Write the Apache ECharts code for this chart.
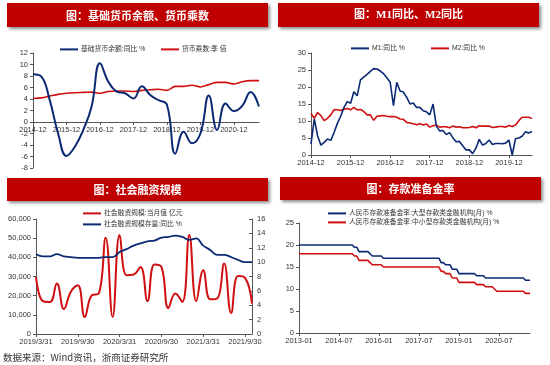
<!DOCTYPE html>
<html>
<head>
<meta charset="utf-8">
<script src="https://cdn.jsdelivr.net/npm/echarts@6/dist/echarts.min.js"></script>
<style>
html,body{margin:0;padding:0;background:#fff;}
#c{width:550px;height:365px;}
</style>
</head>
<body>
<div id="c"></div>
<script>
// ---------- Panel 1: 基础货币余额 / 货币乘数 (quarterly) ----------
var p1Cats = ['2014-12','2015-03','2015-06','2015-09','2015-12','2016-03','2016-06','2016-09','2016-12','2017-03','2017-06','2017-09','2017-12','2018-03','2018-06','2018-09','2018-12','2019-03','2019-06','2019-09','2019-12','2020-03','2020-06','2020-09','2020-12','2021-03','2021-06','2021-09'];
var p1Base = [8.3, 7.9, 3.8, -2.0, -5.9, -4.3, -1.4, 2.7, 10.2, 7.0, 5.3, 5.0, 4.1, 6.2, 4.7, 3.8, 3.0, -5.5, -1.7, -3.7, -2.0, 4.6, -1.4, 3.2, 1.9, 2.8, 5.2, 2.7];
var p1Mult = [4.1, 4.2, 4.5, 4.8, 5.0, 5.1, 5.15, 5.2, 5.0, 5.3, 5.4, 5.4, 5.3, 5.5, 5.6, 5.7, 5.5, 6.2, 6.2, 6.4, 6.1, 6.5, 6.9, 6.9, 6.6, 7.0, 7.2, 7.2];
var p1YMin = -8, p1YMax = 12;

// ---------- Panel 2: M1 / M2 同比 (monthly 2014-12 .. 2020-07) ----------
var p2M1 = [3.2,10.6,5.6,2.9,3.7,4.7,4.3,6.6,9.3,11.4,14.0,15.7,15.2,18.6,17.4,22.1,22.9,23.7,24.6,25.4,25.3,24.7,23.9,22.7,21.4,14.5,21.4,18.8,18.5,17.0,15.0,15.3,14.0,14.0,13.0,12.7,11.8,15.0,8.5,7.1,7.2,6.0,6.6,5.1,3.9,4.0,2.7,1.5,1.5,0.4,2.0,4.6,2.9,3.4,4.4,3.1,3.4,3.4,3.3,3.5,4.4,0.0,4.8,5.0,5.5,6.8,6.5,6.9];
var p2M2 = [12.2,10.8,12.5,11.6,10.1,10.8,11.8,13.3,13.3,13.1,13.5,13.7,13.3,14.0,13.3,13.4,12.8,11.8,11.8,10.2,11.4,11.5,11.6,11.4,11.3,11.3,11.1,10.6,10.5,9.6,9.4,9.2,8.9,9.2,8.8,9.1,8.2,8.6,8.8,8.2,8.3,8.3,8.0,8.5,8.2,8.3,8.0,8.0,8.1,8.4,8.0,8.6,8.5,8.5,8.5,8.1,8.2,8.4,8.4,8.2,8.7,8.4,8.8,10.1,11.1,11.1,11.1,10.7];

// ---------- Panel 3: 社会融资规模 (monthly 2019-03 .. 2021-10) ----------
var p3Flow = [29800,17100,16700,26300,13000,22000,25500,8900,20200,21100,50200,8900,51600,30700,31000,35000,17100,36300,35000,13600,21100,16700,51600,17100,33300,18100,18500,36800,11000,30300,29300,15900];
var p3Stock = [11.1,10.8,10.8,11.1,10.8,10.7,10.6,10.6,10.6,10.6,10.7,10.7,11.4,11.8,12.3,12.6,12.9,13.0,13.4,13.5,13.7,13.5,13.1,13.3,12.3,11.7,11.0,11.0,10.7,10.3,10.0,10.0];

// ---------- Panel 4: 存款准备金率 (monthly 2013-01 .. 2021-09) ----------
var p4Large = [
 20,20,20,20,20,20,20,20,20,20,20,20,
 20,20,20,20,20,20,20,20,20,20,20,20,
 20,19.5,19.5,18.5,18.5,18.5,18.5,18.5,18,17.5,17.5,17.5,
 17.5,17.5,17,17,17,17,17,17,17,17,17,17,
 17,17,17,17,17,17,17,17,17,17,17,17,
 17,17,17,17,16,16,15.5,15.5,15.5,14.5,14.5,14.5,
 13.5,13.5,13.5,13.5,13.5,13.5,13.5,13.5,13,13,13,13,
 12.5,12.5,12.5,12.5,12.5,12.5,12.5,12.5,12.5,12.5,12.5,12.5,
 12.5,12.5,12.5,12.5,12.5,12.5,12,12,12];
var p4Small = [
 18,18,18,18,18,18,18,18,18,18,18,18,
 18,18,18,18,18,18,18,18,18,18,18,18,
 18,17.5,17.5,16.5,16.5,16.5,16.5,16.5,16,15.5,15.5,15.5,
 15.5,15.5,15,15,15,15,15,15,15,15,15,15,
 15,15,15,15,15,15,15,15,15,15,15,15,
 15,15,15,15,14,14,13.5,13.5,13.5,12.5,12.5,12.5,
 11.5,11.5,11.5,11.5,11.5,11.5,11.5,11.5,11,11,11,11,
 10.5,10.5,10.5,10.5,10,9.5,9.5,9.5,9.5,9.5,9.5,9.5,
 9.5,9.5,9.5,9.5,9.5,9.5,9,9,9];

// category label helpers (labels only)
function monthLabels(y, m, n) {
  var out = [];
  for (var i = 0; i < n; i++) {
    out.push(y + '-' + (m < 10 ? '0' + m : m));
    m++; if (m > 12) { m = 1; y++; }
  }
  return out;
}
function monthEndLabels(y, m, n) {
  var out = [];
  for (var i = 0; i < n; i++) {
    var d = new Date(y, m, 0).getDate();
    out.push(y + '/' + m + '/' + d);
    m++; if (m > 12) { m = 1; y++; }
  }
  return out;
}
var p2Cats = monthLabels(2014, 12, p2M1.length);
var p3Cats = monthEndLabels(2019, 3, p3Flow.length);
var p4Cats = monthLabels(2013, 1, p4Large.length);

var BLUE = '#0B2A73';
var RED = '#D01010';
var BAR = '#C00000';
var AX = '#555';
var FONT = '"Liberation Sans", "Noto Sans CJK SC", sans-serif';

function xCat(gi, data, interval, fs, offset) {
  return {
    type: 'category', gridIndex: gi, data: data, boundaryGap: false, offset: offset || 0,
    axisLine: {show: true, onZero: false, lineStyle: {color: AX, width: 1}},
    axisTick: {show: true, interval: interval, length: 3, lineStyle: {color: AX}},
    axisLabel: {interval: interval, fontSize: fs, color: '#333', margin: 4, fontFamily: FONT},
    splitLine: {show: false}
  };
}
function yVal(gi, min, max, step, fs, pos, inside) {
  return {
    type: 'value', gridIndex: gi, min: min, max: max, interval: step, position: pos || 'left',
    axisLine: {show: true, onZero: false, lineStyle: {color: AX, width: 1}},
    axisTick: {show: true, length: 3, inside: !!inside, lineStyle: {color: AX}},
    axisLabel: {fontSize: fs, color: '#333', margin: 5, fontFamily: FONT},
    splitLine: {show: false}
  };
}
function legendItem(name, left, top) {
  return {
    data: [name], left: left, top: top, icon: 'rect', itemWidth: 18, itemHeight: 2,
    itemGap: 3, padding: 0, selectedMode: false,
    textStyle: {fontSize: 6.8, color: '#333', fontFamily: FONT, padding: [0, 0, 0, -2]}
  };
}
function titleBar(x, y, w, h, text, fontFam) {
  return [
    {type: 'rect', shape: {x: x, y: y, width: w, height: h},
     style: {fill: BAR, shadowBlur: 3, shadowOffsetX: 2, shadowOffsetY: 2, shadowColor: 'rgba(0,0,0,0.45)'}, z: 1},
    {type: 'text', x: x + w / 2, y: y + h / 2 + 0.5, z: 2,
     style: {text: text, fill: '#fff', align: 'center', verticalAlign: 'middle',
             font: 'bold 11px ' + (fontFam || '"Noto Sans CJK SC", sans-serif')}}
  ];
}
function grid(l, t, w, h) {
  return {left: l, top: t, width: w, height: h, containLabel: false};
}

// panel 1 x axis sits on the zero line: shift it up from the grid bottom
var g1 = {l: 33, t: 53, w: 226, h: 115};
var p1ZeroOffset = -g1.h * (0 - p1YMin) / (p1YMax - p1YMin);

var chart = echarts.init(document.getElementById('c'), null, {renderer: 'canvas'});
var option = {
  animation: false,
  backgroundColor: '#fff',
  textStyle: {fontFamily: FONT},
  grid: [
    grid(g1.l, g1.t, g1.w, g1.h),
    grid(311, 53, 221, 102),
    grid(36, 219, 216, 115),
    grid(299, 223, 231, 110)
  ],
  legend: [
    legendItem('基础货币余额:同比 %', 60, 46),
    legendItem('货币乘数:季 倍', 161, 46),
    legendItem('M1:同比 %', 351, 45),
    legendItem('M2:同比 %', 431, 45),
    legendItem('社会融资规模:当月值 亿元', 83, 210),
    legendItem('社会融资规模存量:同比 %', 83, 221),
    legendItem('人民币存款准备金率:大型存款类金融机构(月) %', 328, 210),
    legendItem('人民币存款准备金率:中小型存款类金融机构(月) %', 328, 219)
  ],
  xAxis: [
    xCat(0, p1Cats, 3, 7.5, p1ZeroOffset),
    xCat(1, p2Cats, 11, 7.5),
    xCat(2, p3Cats, 5, 7.5),
    xCat(3, p4Cats, 17, 7.5)
  ],
  yAxis: [
    yVal(0, p1YMin, p1YMax, 2, 7.5),
    yVal(1, 0, 30, 5, 7.5),
    yVal(2, 0, 60000, 10000, 7.5),
    yVal(2, 0, 16, 2, 7.5, 'right', true),
    yVal(3, 0, 25, 5, 7.5)
  ],
  series: [
    {name: '基础货币余额:同比 %', type: 'line', xAxisIndex: 0, yAxisIndex: 0, data: p1Base,
     smooth: 0.45, symbol: 'none', lineStyle: {color: BLUE, width: 2}, itemStyle: {color: BLUE}, z: 3},
    {name: '货币乘数:季 倍', type: 'line', xAxisIndex: 0, yAxisIndex: 0, data: p1Mult,
     smooth: 0.3, symbol: 'none', lineStyle: {color: RED, width: 1.6}, itemStyle: {color: RED}, z: 2},
    {name: 'M1:同比 %', type: 'line', xAxisIndex: 1, yAxisIndex: 1, data: p2M1,
     symbol: 'none', lineStyle: {color: BLUE, width: 1.6}, itemStyle: {color: BLUE}, z: 3},
    {name: 'M2:同比 %', type: 'line', xAxisIndex: 1, yAxisIndex: 1, data: p2M2,
     symbol: 'none', lineStyle: {color: RED, width: 1.6}, itemStyle: {color: RED}, z: 2},
    {name: '社会融资规模:当月值 亿元', type: 'line', xAxisIndex: 2, yAxisIndex: 2, data: p3Flow,
     smooth: 0.45, symbol: 'none', lineStyle: {color: RED, width: 2}, itemStyle: {color: RED}, z: 2},
    {name: '社会融资规模存量:同比 %', type: 'line', xAxisIndex: 2, yAxisIndex: 3, data: p3Stock,
     smooth: 0.4, symbol: 'none', lineStyle: {color: BLUE, width: 1.8}, itemStyle: {color: BLUE}, z: 3},
    {name: '人民币存款准备金率:大型存款类金融机构(月) %', type: 'line', xAxisIndex: 3, yAxisIndex: 4, data: p4Large,
     symbol: 'none', lineStyle: {color: BLUE, width: 1.6}, itemStyle: {color: BLUE}, z: 3},
    {name: '人民币存款准备金率:中小型存款类金融机构(月) %', type: 'line', xAxisIndex: 3, yAxisIndex: 4, data: p4Small,
     symbol: 'none', lineStyle: {color: RED, width: 1.6}, itemStyle: {color: RED}, z: 2}
  ],
  graphic: [].concat(
    titleBar(7, 3, 261, 24, '图：基础货币余额、货币乘数'),
    titleBar(278, 3, 261, 24, '图：M1同比、M2同比', '"Liberation Serif", "Noto Sans CJK SC", serif'),
    titleBar(7, 178, 261, 23, '图：社会融资规模'),
    titleBar(280, 177, 261, 23, '图：存款准备金率'),
    [{type: 'text', x: 3, y: 357, z: 2,
      style: {text: '数据来源：Wind资讯，浙商证券研究所', fill: '#333', verticalAlign: 'middle',
              font: '9.5px "Noto Sans CJK SC", sans-serif'}}]
  )
};
chart.setOption(option);
</script>
</body>
</html>
